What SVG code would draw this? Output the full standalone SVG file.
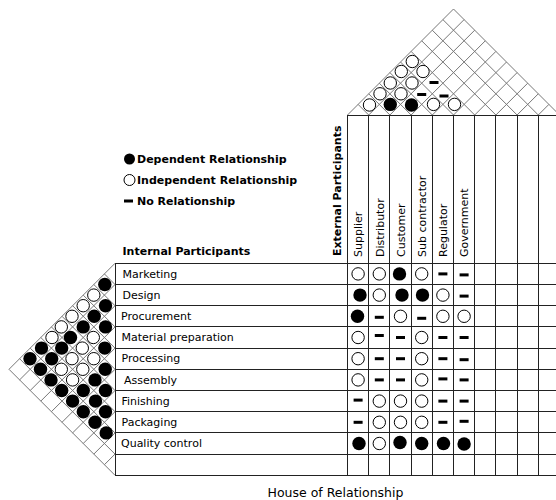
<svg xmlns="http://www.w3.org/2000/svg" width="556" height="500" viewBox="0 0 556 500">
  <style>
    .bg { fill: #ffffff; }
    .lattice { fill: none; stroke: #777777; stroke-width: 1; }
    .grid { fill: none; stroke: #222222; stroke-width: 1; shape-rendering: crispEdges; }
    .lbl { font-family: "DejaVu Sans", Verdana, sans-serif; font-size: 11px; fill: #000; }
    .bold { font-family: "DejaVu Sans", Verdana, sans-serif; font-size: 11px; font-weight: bold; fill: #000; }
    .title { font-family: "DejaVu Sans", Verdana, sans-serif; font-size: 12.5px; fill: #000; }
  </style>
  <defs>
    <!-- dependent: filled dot -->
    <circle id="d" cx="0" cy="0" r="6.7" fill="#000"/>
    <!-- independent: hollow ring -->
    <circle id="i" cx="0" cy="0" r="6.2" fill="#fff" stroke="#000" stroke-width="1"/>
    <!-- no relationship: short bar -->
    <rect id="n" x="-4.5" y="-1.5" width="9" height="3" fill="#000"/>
  </defs>

  <rect class="bg" x="0" y="0" width="556" height="500"/>

  <!-- roof over the external participants -->
  <g id="roof-external">
    <path class="lattice" d="M347.5,115 L453.5,9 L559.5,115
      M368.7,115 L358.1,104.4 M389.9,115 L368.7,93.8 M411.1,115 L379.3,83.2
      M432.3,115 L389.9,72.6 M453.5,115 L400.5,62 M474.7,115 L411.1,51.4
      M495.9,115 L421.7,40.8 M517.1,115 L432.3,30.2 M538.3,115 L442.9,19.6
      M368.7,115 L464.1,19.6 M389.9,115 L474.7,30.2 M411.1,115 L485.3,40.8
      M432.3,115 L495.9,51.4 M453.5,115 L506.5,62 M474.7,115 L517.1,72.6
      M495.9,115 L527.7,83.2 M517.1,115 L538.3,93.8 M538.3,115 L548.9,104.4"/>
    <use href="#i" x="369.5" y="105"/>
    <use href="#d" x="390.3" y="104.4"/>
    <use href="#d" x="411.5" y="105"/>
    <use href="#i" x="433.5" y="104.4"/>
    <use href="#i" x="454.5" y="104.4"/>
    <use href="#i" x="380" y="93.8"/>
    <use href="#i" x="401" y="93.8"/>
    <use href="#n" x="421.7" y="94.5"/>
    <use href="#n" x="444" y="96"/>
    <use href="#i" x="390.3" y="83"/>
    <use href="#i" x="412" y="83"/>
    <use href="#n" x="434" y="82.5"/>
    <use href="#i" x="401.3" y="71.5"/>
    <use href="#i" x="423" y="71.5"/>
    <use href="#i" x="412.3" y="61.5"/>
  </g>

  <!-- roof beside the internal participants -->
  <g id="roof-internal">
    <path class="lattice" d="M115,263.3 L9,369.3 L115,475.3
      M115,284.5 L104.4,273.9 M115,305.7 L93.8,284.5 M115,326.9 L83.2,295.1
      M115,348.1 L72.6,305.7 M115,369.3 L62,316.3 M115,390.5 L51.4,326.9
      M115,411.7 L40.8,337.5 M115,432.9 L30.2,348.1 M115,454.1 L19.6,358.7
      M115,284.5 L19.6,379.9 M115,305.7 L30.2,390.5 M115,326.9 L40.8,401.1
      M115,348.1 L51.4,411.7 M115,369.3 L62,422.3 M115,390.5 L72.6,432.9
      M115,411.7 L83.2,443.5 M115,432.9 L93.8,454.1 M115,454.1 L104.4,464.7"/>
    <!-- neighbouring rows -->
    <use href="#d" x="104.8" y="284.5"/>
    <use href="#d" x="105.5" y="305.7"/>
    <use href="#d" x="105.5" y="326.9"/>
    <use href="#d" x="104.8" y="348.1"/>
    <use href="#d" x="105.2" y="369.3"/>
    <use href="#d" x="105.5" y="390.5"/>
    <use href="#d" x="105.5" y="411.7"/>
    <use href="#d" x="106.2" y="432.9"/>
    <!-- two apart -->
    <use href="#i" x="93.8" y="295.1"/>
    <use href="#d" x="94.2" y="316.3"/>
    <use href="#i" x="93.3" y="337.5"/>
    <use href="#i" x="93.8" y="358.7"/>
    <use href="#d" x="95" y="379.9"/>
    <use href="#d" x="95.5" y="401.1"/>
    <use href="#d" x="95" y="422.3"/>
    <!-- three apart -->
    <use href="#i" x="83.2" y="305.7"/>
    <use href="#d" x="83.2" y="326.9"/>
    <use href="#i" x="82.3" y="348.1"/>
    <use href="#i" x="82.8" y="369.3"/>
    <use href="#d" x="83.3" y="390.5"/>
    <use href="#d" x="83.3" y="411.7"/>
    <!-- four apart -->
    <use href="#i" x="72" y="316.3"/>
    <use href="#d" x="70.5" y="337.5"/>
    <use href="#i" x="72" y="358.7"/>
    <use href="#i" x="72.6" y="379.9"/>
    <use href="#d" x="72.6" y="401.1"/>
    <!-- five apart -->
    <use href="#i" x="61.3" y="326.9"/>
    <use href="#d" x="61.7" y="348.1"/>
    <use href="#i" x="61.3" y="369.3"/>
    <use href="#d" x="61.7" y="390.5"/>
    <!-- six, seven, eight apart -->
    <use href="#i" x="52" y="337.5"/>
    <use href="#d" x="51.7" y="358.7"/>
    <use href="#d" x="51" y="379.9"/>
    <use href="#d" x="41.5" y="348.1"/>
    <use href="#d" x="40.5" y="369.3"/>
    <use href="#d" x="30" y="358.7"/>
  </g>

  <!-- ruled grid -->
  <g id="grid">
    <path class="grid" d="M347.5,115 H559.5
      M115,263.3 H559.5 M115,284.5 H559.5 M115,305.7 H559.5 M115,326.9 H559.5
      M115,348.1 H559.5 M115,369.3 H559.5 M115,390.5 H559.5 M115,411.7 H559.5
      M115,432.9 H559.5 M115,454.1 H559.5 M115,475.3 H559.5
      M115,263.3 V475.3
      M347.5,115 V475.3 M368.7,115 V475.3 M389.9,115 V475.3 M411.1,115 V475.3
      M432.3,115 V475.3 M453.5,115 V475.3 M474.7,115 V475.3 M495.9,115 V475.3
      M517.1,115 V475.3 M538.3,115 V475.3"/>
  </g>

  <!-- legend -->
  <g id="legend">
    <circle cx="129.5" cy="159" r="5.5" fill="#000"/>
    <text class="bold" x="137" y="163">Dependent Relationship</text>
    <circle cx="129.5" cy="180" r="5.5" fill="#fff" stroke="#000" stroke-width="1"/>
    <text class="bold" x="137" y="184">Independent Relationship</text>
    <rect x="124" y="199.5" width="9" height="3" fill="#000"/>
    <text class="bold" x="137" y="205">No Relationship</text>
  </g>

  <g id="heading-internal">
    <text class="bold" x="122.5" y="255">Internal Participants</text>
  </g>
  <g id="heading-external">
    <text class="bold" transform="translate(341,256) rotate(-90)">External Participants</text>
  </g>

  <!-- column headings -->
  <g id="col-supplier"><text class="lbl" transform="translate(362,257) rotate(-90)">Supplier</text></g>
  <g id="col-distributor"><text class="lbl" transform="translate(383.5,257) rotate(-90)">Distributor</text></g>
  <g id="col-customer"><text class="lbl" transform="translate(404.5,257) rotate(-90)">Customer</text></g>
  <g id="col-subcontractor"><text class="lbl" transform="translate(425.5,257) rotate(-90)">Sub contractor</text></g>
  <g id="col-regulator"><text class="lbl" transform="translate(447,257) rotate(-90)">Regulator</text></g>
  <g id="col-government"><text class="lbl" transform="translate(468,257) rotate(-90)">Government</text></g>

  <!-- row headings -->
  <g id="row-marketing"><text class="lbl" x="122.5" y="277.5">Marketing</text></g>
  <g id="row-design"><text class="lbl" x="122.5" y="298.7">Design</text></g>
  <g id="row-procurement"><text class="lbl" x="121" y="319.9">Procurement</text></g>
  <g id="row-material"><text class="lbl" x="121.5" y="341.1">Material preparation</text></g>
  <g id="row-processing"><text class="lbl" x="121.5" y="362.3">Processing</text></g>
  <g id="row-assembly"><text class="lbl" x="124" y="383.5">Assembly</text></g>
  <g id="row-finishing"><text class="lbl" x="121.5" y="404.7">Finishing</text></g>
  <g id="row-packaging"><text class="lbl" x="121.5" y="425.9">Packaging</text></g>
  <g id="row-quality"><text class="lbl" x="121" y="447.1">Quality control</text></g>

  <!-- relationship matrix -->
  <g id="matrix">
    <use href="#i" x="358.1" y="273.9"/><use href="#i" x="379.3" y="273.9"/><use href="#d" x="399.5" y="273.9"/>
    <use href="#i" x="421.7" y="273.9"/><use href="#n" x="442.9" y="273.9"/><use href="#n" x="464.1" y="274.9"/>

    <use href="#d" x="360" y="295.1"/><use href="#i" x="379.3" y="295.1"/><use href="#d" x="402" y="295.1"/>
    <use href="#d" x="422.5" y="295.1"/><use href="#i" x="442.9" y="295.1"/><use href="#n" x="464.1" y="296.1"/>

    <use href="#d" x="357.5" y="316.3"/><use href="#n" x="379.3" y="317.3"/><use href="#i" x="400.5" y="316.3"/>
    <use href="#n" x="421.7" y="318.3"/><use href="#i" x="442.9" y="316.3"/><use href="#i" x="464.1" y="316.3"/>

    <use href="#i" x="358.1" y="337.5"/><use href="#n" x="379.3" y="335.5"/><use href="#n" x="400.5" y="337.5"/>
    <use href="#i" x="421.7" y="337.5"/><use href="#n" x="442.9" y="337.5"/><use href="#n" x="464.1" y="337.5"/>

    <use href="#i" x="358.1" y="358.7"/><use href="#n" x="379.3" y="358.7"/><use href="#n" x="400.5" y="358.7"/>
    <use href="#i" x="421.7" y="358.7"/><use href="#n" x="442.9" y="358.7"/><use href="#n" x="464.1" y="359.7"/>

    <use href="#i" x="358.1" y="379.9"/><use href="#n" x="379.3" y="379.9"/><use href="#n" x="400.5" y="379.9"/>
    <use href="#i" x="421.7" y="379.9"/><use href="#n" x="442.9" y="378.9"/><use href="#n" x="464.1" y="379.9"/>

    <use href="#n" x="358.1" y="400.1"/><use href="#i" x="379.3" y="401.1"/><use href="#i" x="400.5" y="401.1"/>
    <use href="#i" x="421.7" y="401.1"/><use href="#n" x="442.9" y="401.1"/><use href="#n" x="464.1" y="401.1"/>

    <use href="#n" x="358.1" y="422.3"/><use href="#i" x="379.3" y="422.3"/><use href="#i" x="400.5" y="422.3"/>
    <use href="#i" x="421.7" y="422.3"/><use href="#n" x="442.9" y="422.3"/><use href="#n" x="464.1" y="421.3"/>

    <use href="#d" x="359" y="443.5"/><use href="#i" x="379.3" y="443.5"/><use href="#d" x="400" y="442.5"/>
    <use href="#d" x="421.7" y="443.5"/><use href="#d" x="443.5" y="443.5"/><use href="#d" x="464.1" y="444"/>
  </g>

  <g id="caption">
    <text class="title" x="335.5" y="497" text-anchor="middle">House of Relationship</text>
  </g>
</svg>
